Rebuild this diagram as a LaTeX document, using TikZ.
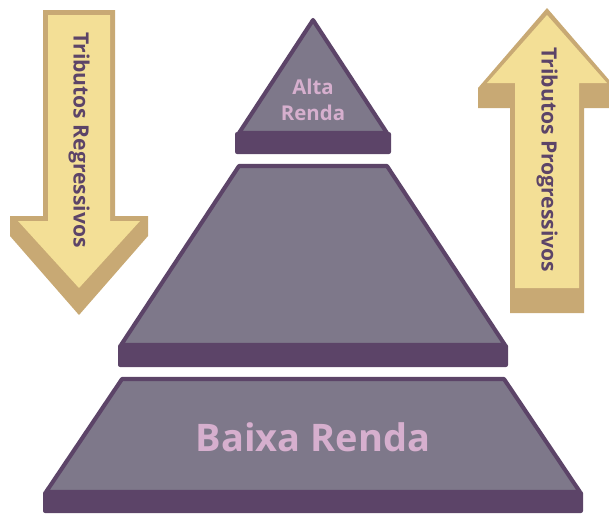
\documentclass[tikz,border=0pt]{standalone}
\usepackage{fontspec}
\setmainfont{Open Sans}
\usepackage{tikz}

\definecolor{slabpurple}{HTML}{5C4468}
\definecolor{facegray}{HTML}{7E788A}
\definecolor{labelpink}{HTML}{D6AFCE}
\definecolor{arrowyellow}{HTML}{F3DF96}
\definecolor{arrowtan}{HTML}{C8A974}

\begin{document}
\begin{tikzpicture}[
    x=0.025cm, y=-0.025cm,
    face/.style={fill=facegray, draw=slabpurple, line width=2.9pt, line join=round},
    slab/.style={fill=slabpurple, rounded corners=1.5pt},
    arrowface/.style={fill=arrowyellow},
    arrowedge/.style={fill=arrowtan},
    arrowlabel/.style={text=slabpurple, font=\fontsize{15}{18}\selectfont\bfseries, rotate=-90},
    levellabel/.style={text=labelpink, align=center}
]
    \useasboundingbox (0,0) rectangle (609,515);

    % Down arrow on the left: tan rim with its raised edge, then the face
    \fill[arrowedge] (43,10) -- (115,10) -- (115,216) -- (148,216) -- (148,236)
          -- (79,315) -- (10,236) -- (10,216) -- (43,216) -- cycle;
    \fill[arrowface] (48,15) -- (110,15) -- (110,221) -- (140,221)
          -- (79,288) -- (18,221) -- (48,221) -- cycle;
    \node[arrowlabel] (regressivos) at (79,140) {Tributos Regressivos};

    % Up arrow on the right
    \fill[arrowedge] (547,8) -- (616,88) -- (616,108) -- (584,108) -- (584,313)
          -- (510,313) -- (510,108) -- (478,108) -- (478,88) -- cycle;
    \fill[arrowface] (547,15) -- (607,83) -- (579,83) -- (579,288)
          -- (515,288) -- (515,83) -- (487,83) -- cycle;
    \node[arrowlabel] (progressivos) at (547,160) {Tributos Progressivos};

    % Pyramid: top level
    \draw[face] (313,20) -- (387,133) -- (239,133) -- cycle;
    \fill[slab] (235,132) rectangle (391,154);
    \node[levellabel, font=\fontsize{14.5}{18.5}\selectfont\bfseries] (alta) at (313,100) {Alta\\Renda};

    % Middle level
    \draw[face] (239,166) -- (387,166) -- (505,345) -- (121,345) -- cycle;
    \fill[slab] (118,344) rectangle (508,367);

    % Bottom level
    \draw[face] (122,379) -- (504,379) -- (580,492) -- (46,492) -- cycle;
    \fill[slab] (43,491) rectangle (583,513);
    \node[levellabel, font=\fontsize{27}{32}\selectfont\bfseries] (baixa) at (313,437) {Baixa Renda};
\end{tikzpicture}
\end{document}
